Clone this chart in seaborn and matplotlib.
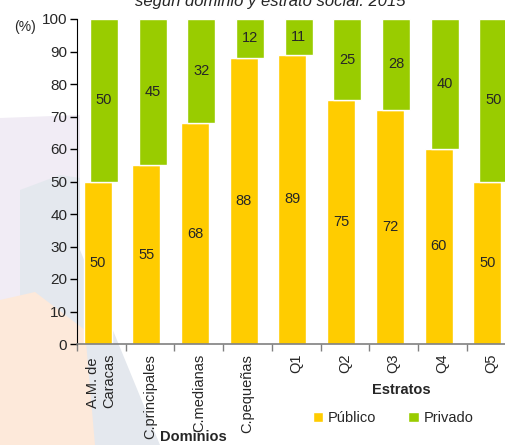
import matplotlib
matplotlib.use("Agg")
import matplotlib.pyplot as plt
from matplotlib.patches import Polygon, Patch
import numpy as np
import pandas as pd
import seaborn as sns

categorias = ["A.M. de\nCaracas", "C.principales", "C.medianas", "C.pequeñas",
              "Q1", "Q2", "Q3", "Q4", "Q5"]
publico = [50, 55, 68, 88, 89, 75, 72, 60, 50]
privado = [50, 45, 32, 12, 11, 25, 28, 40, 50]

AMARILLO = "#FFCC00"
VERDE = "#99CC00"

sns.set_style("white")
plt.rcParams["font.family"] = ["Liberation Sans", "DejaVu Sans"]

fig = plt.figure(figsize=(5.06, 4.45), dpi=100)

# faint watermark behind the left part of the chart
W, H = 506, 445
def fpoly(pts, color):
    xy = [(x / W, 1 - y / H) for x, y in pts]
    fig.patches.append(Polygon(xy, closed=True, transform=fig.transFigure,
                               facecolor=color, edgecolor="none", zorder=-5))

fpoly([(0, 118), (80, 115), (80, 300), (0, 300)], "#f1ecf5")
fpoly([(20, 190), (60, 175), (80, 178), (80, 250), (160, 445), (80, 445), (30, 380), (20, 300)], "#e4e8ee")
fpoly([(0, 300), (35, 292), (85, 330), (95, 445), (0, 445)], "#fde9da")

ax = fig.add_axes([77 / W, 1 - 344 / H, 438.3 / W, 325 / H])
ax.set_facecolor("none")

df = pd.DataFrame({"cat": categorias, "Público": publico, "Privado": privado})

sns.barplot(data=df, x="cat", y="Público", order=categorias, color=AMARILLO,
            width=0.575, saturation=1, ax=ax)
sns.barplot(data=df, x="cat", y="Privado", order=categorias, color=VERDE,
            width=0.575, saturation=1, ax=ax, bottom=np.array(publico))

# Excel-style offset between the two series
for cont, off in zip(ax.containers, [-0.075, 0.052]):
    for p in cont:
        p.set_x(p.get_x() + off)
    ax.bar_label(cont, label_type="center", fontsize=10.5)

ax.set_xlim(-0.5, 8.5)
ax.set_ylim(0, 100)
ax.set_yticks(range(0, 101, 10))
ax.set_xlabel("")
ax.set_ylabel("")
ax.tick_params(axis="y", which="major", direction="out", length=5, width=1,
               color="black", labelsize=11, pad=2, left=True)
ax.set_xticks(np.arange(-0.5, 9, 1), minor=True)
ax.tick_params(axis="x", which="minor", direction="out", length=5, width=1,
               color="#808080", bottom=True)
ax.tick_params(axis="x", which="major", length=0, pad=7, labelsize=10.5)
for lbl in ax.get_xticklabels():
    lbl.set_rotation(90)
    lbl.set_va("top")
    lbl.set_ha("center")
    lbl.set_multialignment("left")

for s in ["top", "right"]:
    ax.spines[s].set_visible(False)
ax.spines["left"].set_color("black")
ax.spines["bottom"].set_color("#808080")
ax.spines["bottom"].set_linewidth(1.2)

fig.text(14 / W, 1 - 27 / H, "(%)", fontsize=10, va="center", ha="left")
fig.text(270 / W, 1 - 6 / H, "según dominio y estrato social. 2015",
         fontsize=12, style="italic", ha="center", va="baseline")
fig.text(401 / W, 1 - 390 / H, "Estratos", fontsize=10.5, weight="bold",
         ha="center", va="center")
fig.text(193 / W, 1 - 437 / H, "Dominios", fontsize=10.5, weight="bold",
         ha="center", va="center")

handles = [Patch(facecolor=AMARILLO, label="Público"),
           Patch(facecolor=VERDE, label="Privado")]
fig.legend(handles=handles, loc="center", bbox_to_anchor=(393 / W, 1 - 418 / H),
           ncol=2, frameon=False, fontsize=10.5, handlelength=0.75,
           handleheight=0.75, handletextpad=0.3, columnspacing=2.2)

fig.savefig("out.png", dpi=100)
